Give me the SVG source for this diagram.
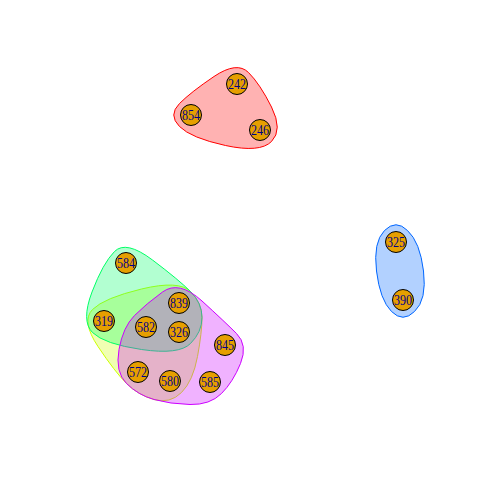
<svg xmlns="http://www.w3.org/2000/svg" width="480" height="480" viewBox="0 0 480 480">
<style>
.hull{stroke-width:1;fill-opacity:0.3}
.node circle{fill:#E69F00;stroke:#000;stroke-width:1}
.node text{font-family:"Liberation Serif","Times New Roman",serif;font-size:14px;fill:#00008B;text-anchor:middle}
</style>
<rect width="480" height="480" fill="#fff"/>
<g id="groups">
<path id="g-red" class="hull" fill="#FF0000" stroke="#FF0000" d="M214,76.5 Q237,61 248.5,72.5 Q260,84 271.5,107 Q283,130 271.5,141.5 Q260,153 225.5,145.5 Q191,138 179.5,126.5 Q168,115 179.5,103.5 Q191,92 214,76.5 Z"/>
<path id="g-yellow" class="hull" fill="#CCFF00" stroke="#CCFF00" d="M141.5,289 Q179,280 190.5,291.5 Q202,303 202,317.5 Q202,332 197.5,356.5 Q193,381 181.5,392.5 Q170,404 154,399.5 Q138,395 126.5,383.5 Q115,372 98,346.5 Q81,321 92.5,309.5 Q104,298 141.5,289 Z"/>
<path id="g-green" class="hull" fill="#00FF66" stroke="#00FF66" d="M114.5,251.5 Q126,240 152.5,260 Q179,280 190.5,291.5 Q202,303 202,317.5 Q202,332 190.5,343.5 Q179,355 141.5,349.5 Q104,344 92.5,332.5 Q81,321 92,292 Q103,263 114.5,251.5 Z"/>
<path id="g-blue" class="hull" fill="#0066FF" stroke="#0066FF" d="M384.5,230.5 Q396,219 407.5,230.5 Q420,242 423.5,271 Q427,300 414.5,311.5 Q403,323 391.5,311.5 Q380,300 376.5,271 Q373,242 384.5,230.5 Z"/>
<path id="g-magenta" class="hull" fill="#CC00FF" stroke="#CC00FF" d="M162.5,292 Q179,280 202,301 Q225,322 236.5,333.5 Q248,345 240.5,363.5 Q233,382 221.5,393.5 Q210,405 190,404.5 Q170,404 154,399.5 Q138,395 126.5,383.5 Q115,372 119,349.5 Q123,327 134.5,315.5 Q146,304 162.5,292 Z"/>
</g>
<g id="connectors"/>
<g id="n242" class="node"><circle cx="237" cy="84" r="10.5"/><text x="237" y="89" textLength="18" lengthAdjust="spacingAndGlyphs">242</text></g>
<g id="n854" class="node"><circle cx="191" cy="115" r="10.5"/><text x="191" y="120" textLength="18" lengthAdjust="spacingAndGlyphs">854</text></g>
<g id="n246" class="node"><circle cx="260" cy="130" r="10.5"/><text x="260" y="135" textLength="18" lengthAdjust="spacingAndGlyphs">246</text></g>
<g id="n325" class="node"><circle cx="396" cy="242" r="10.5"/><text x="396" y="247" textLength="18" lengthAdjust="spacingAndGlyphs">325</text></g>
<g id="n390" class="node"><circle cx="403" cy="300" r="10.5"/><text x="403" y="305" textLength="18" lengthAdjust="spacingAndGlyphs">390</text></g>
<g id="n584" class="node"><circle cx="126" cy="263" r="10.5"/><text x="126" y="268" textLength="18" lengthAdjust="spacingAndGlyphs">584</text></g>
<g id="n319" class="node"><circle cx="104" cy="321" r="10.5"/><text x="104" y="326" textLength="18" lengthAdjust="spacingAndGlyphs">319</text></g>
<g id="n839" class="node"><circle cx="179" cy="303" r="10.5"/><text x="179" y="308" textLength="18" lengthAdjust="spacingAndGlyphs">839</text></g>
<g id="n582" class="node"><circle cx="146" cy="327" r="10.5"/><text x="146" y="332" textLength="18" lengthAdjust="spacingAndGlyphs">582</text></g>
<g id="n326" class="node"><circle cx="179" cy="332" r="10.5"/><text x="179" y="337" textLength="18" lengthAdjust="spacingAndGlyphs">326</text></g>
<g id="n845" class="node"><circle cx="225" cy="345" r="10.5"/><text x="225" y="350" textLength="18" lengthAdjust="spacingAndGlyphs">845</text></g>
<g id="n572" class="node"><circle cx="138" cy="372" r="10.5"/><text x="138" y="377" textLength="18" lengthAdjust="spacingAndGlyphs">572</text></g>
<g id="n580" class="node"><circle cx="170" cy="381" r="10.5"/><text x="170" y="386" textLength="18" lengthAdjust="spacingAndGlyphs">580</text></g>
<g id="n585" class="node"><circle cx="210" cy="382" r="10.5"/><text x="210" y="387" textLength="18" lengthAdjust="spacingAndGlyphs">585</text></g>
</svg>
